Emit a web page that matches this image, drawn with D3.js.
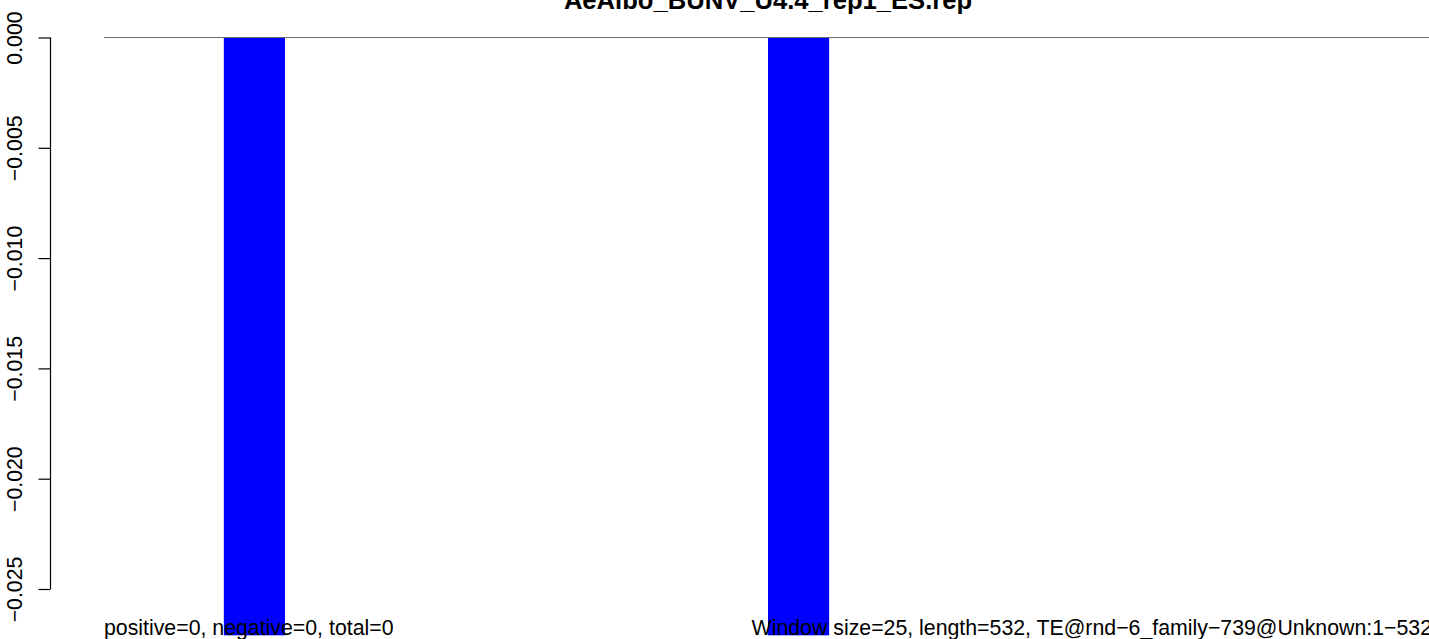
<!DOCTYPE html>
<html><head><meta charset="utf-8">
<script src="https://cdn.jsdelivr.net/npm/d3@7"></script>
<style>body{margin:0;background:#fff}svg{display:block}text{font-family:"Liberation Sans",Arial,Helvetica,sans-serif}</style>
</head><body>
<script>
const title = "AeAlbo_BUNV_U4.4_rep1_ES.rep";
const barStart = [48, 266];
const barEnd = [72.5, 290.5];
const barValue = [-0.0271, -0.0271];
const yTicks = [0, -0.005, -0.010, -0.015, -0.020, -0.025];
const leftNote = "positive=0, negative=0, total=0";
const rightNote = "Window size=25, length=532, TE@rnd\u22126_family\u2212739@Unknown:1\u2212532";
const seqLength = 532;

const W = 1429, H = 639;
const svg = d3.select("body").append("svg").attr("width", W).attr("height", H);
const x = d3.scaleLinear().domain([0, seqLength]).range([104, 1432]);
const y = d3.scaleLinear().domain([0, -0.025]).range([37.5, 589]);

// bars
svg.selectAll("rect.bar").data(barStart.map((s,i)=>({s, e:barEnd[i], v:barValue[i]})))
  .enter().append("rect")
  .attr("x", d=>x(d.s)).attr("width", d=>x(d.e)-x(d.s))
  .attr("y", y(0)).attr("height", d=>y(d.v)-y(0))
  .attr("fill", "#0000ff");

// zero line
svg.append("line").attr("x1", x(0)).attr("x2", x(seqLength)).attr("y1", y(0)).attr("y2", y(0))
  .attr("stroke", "#6a6a6a").attr("stroke-width", 1);

// y axis
const axis = d3.axisLeft(y).tickValues(yTicks).tickFormat(d3.format(".3f")).tickSize(12).tickPadding(0);
const g = svg.append("g").attr("transform", "translate(50.5,0)").call(axis);
g.select(".domain").attr("d", `M0,${y(0)}V${y(-0.025)}`).attr("stroke","#000").attr("stroke-width",1.2);
g.selectAll(".tick line").attr("stroke","#000").attr("stroke-width",1.2);
g.selectAll(".tick text")
  .attr("x", null).attr("dy", null)
  .attr("transform", "translate(-28.5,0) rotate(-90)")
  .attr("text-anchor", "middle")
  .attr("font-size", 21.3).attr("fill", "#000")
  .style("font-family", '"Liberation Sans",Arial,sans-serif');

// title
svg.append("text").attr("x", (x(0)+x(seqLength))/2).attr("y", 9)
  .attr("text-anchor","middle").attr("font-weight","bold").attr("font-size", 25.6).text(title);

// notes
svg.append("text").attr("x", x(0)).attr("y", 635).attr("font-size", 21.3).text(leftNote);
svg.append("text").attr("x", x(seqLength)).attr("y", 635).attr("text-anchor","end").attr("font-size", 21.3).text(rightNote);
</script>
</body></html>
